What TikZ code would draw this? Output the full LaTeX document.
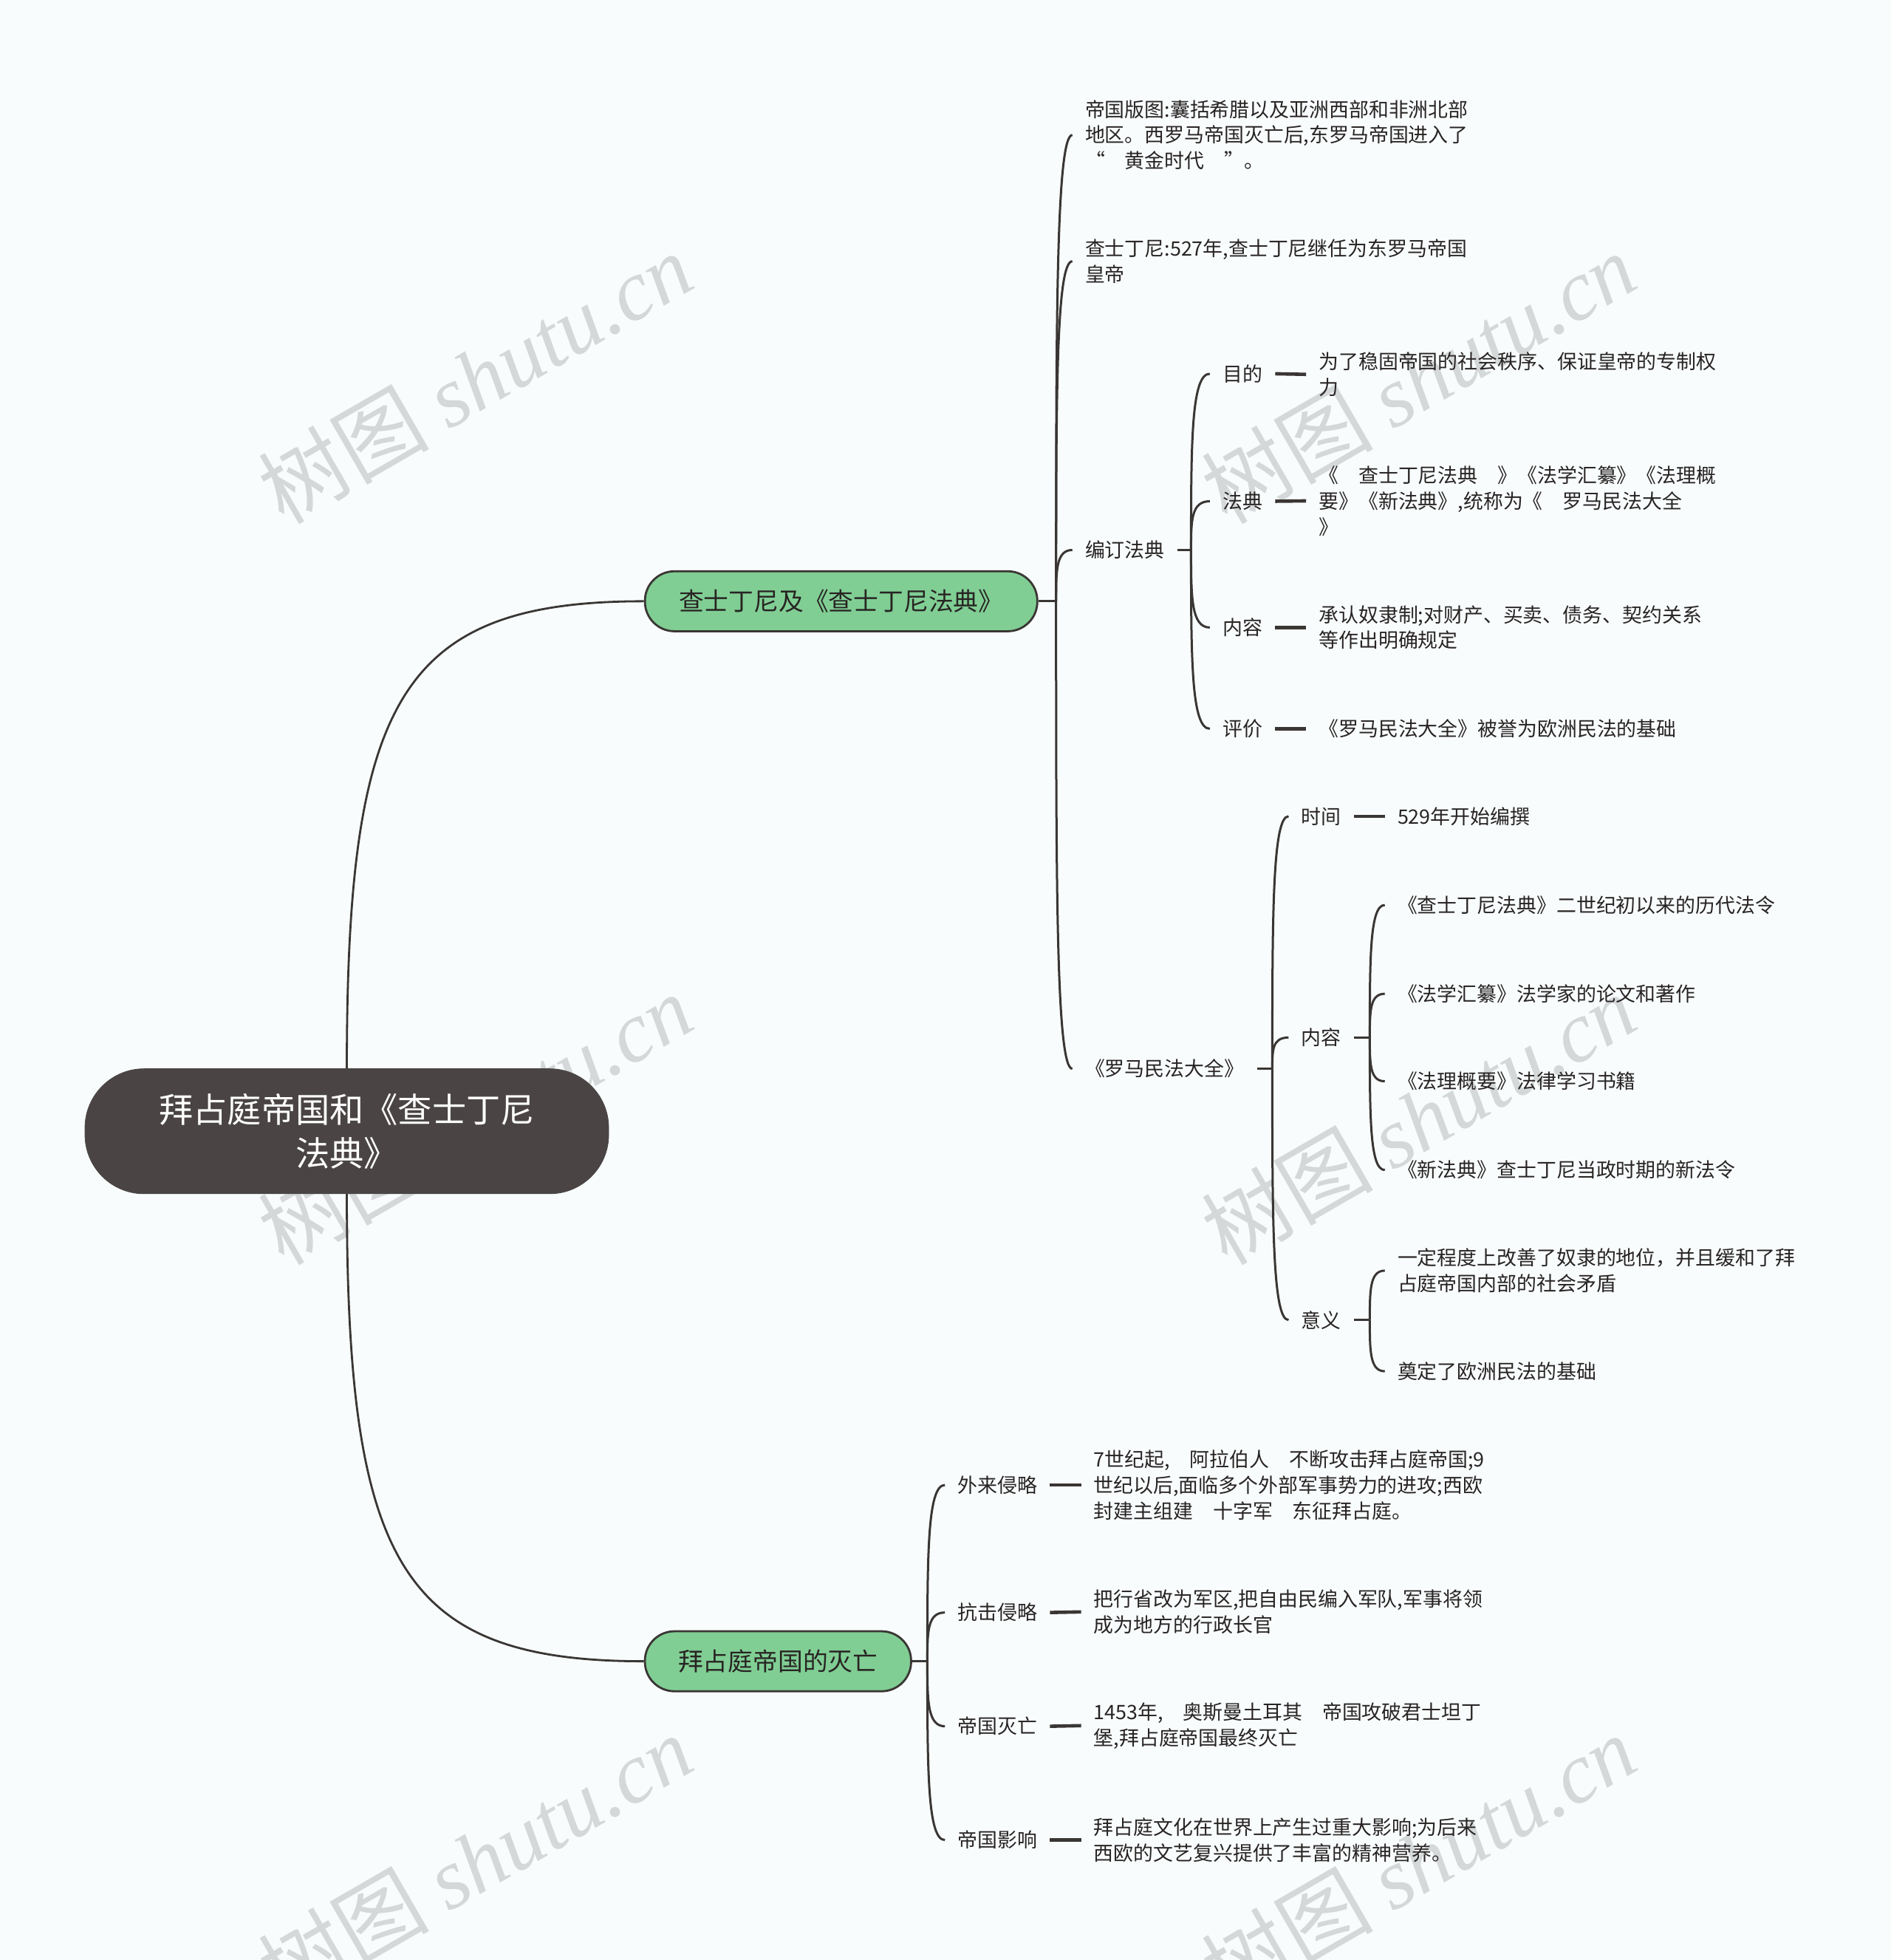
\documentclass[tikz,border=0pt]{standalone}
\usepackage{fontspec}
\setmainfont{Noto Sans CJK SC}
\newfontfamily\wmlatin{Liberation Serif}
\usetikzlibrary{calc}
\definecolor{bg}{RGB}{248,252,253}
\definecolor{ln}{RGB}{58,54,52}
\definecolor{rootfill}{RGB}{74,69,68}
\definecolor{grn}{RGB}{128,206,148}
\definecolor{txt}{RGB}{40,36,35}
\definecolor{wm}{RGB}{212,216,217}
\tikzset{
  conn/.style={draw=ln, line width=1.5pt},
  dashconn/.style={draw=ln, line width=2.3pt},
  rootconn/.style={draw=ln, line width=1.4pt},
  leaf/.style={anchor=west, inner xsep=8.46pt, inner ysep=2pt, align=left,
    font=\fontsize{13.45}{17.4}\selectfont, text=txt},
  rootbox/.style={fill=rootfill, draw=rootfill, rounded corners=40pt, align=center,
    minimum width=354.5pt, minimum height=84.6pt, inner sep=0pt, text=white,
    font=\fontsize{23.1}{29.6}\selectfont},
  topic/.style={fill=grn, draw=ln, line width=1.4pt, rounded corners=20pt,
    minimum height=40.6pt, inner sep=0pt, text=txt,
    font=\fontsize{16.9}{20}\selectfont},
  wmark/.style={text=wm, rotate=30, inner sep=0pt,
    font=\fontsize{58}{58}\selectfont}
}
\newcommand{\spinecurve}[2]{\draw[conn] (#1) .. controls ($(#1)!0.6!(#1 |- #2.west)$) and (#1 |- #2.west) .. (#2.west);}
\begin{document}
\begin{tikzpicture}[x=0.846pt, y=-0.846pt]
\fill[bg] (0,0) rectangle (1513,1568);
\useasboundingbox (0,0) rectangle (1513,1568);
% watermarks
\foreach \wx/\wy [count=\i] in {380/302, 1135/302, 380/895, 1135/895, 380/1488, 1135/1488}
  \node[wmark] (wm\i) at (\wx,\wy) {树图 {\wmlatin\itshape shutu.cn}};
% root and main topics
\node[rootbox] (root) at (277.5,905) {拜占庭帝国和《查士丁尼\\法典》};
\node[topic, minimum width=265.6pt] (b1) at (673,481) {查士丁尼及《查士丁尼法典》};
\node[topic, minimum width=180.2pt] (b2) at (622.5,1329) {拜占庭帝国的灭亡};
\draw[rootconn] (root.north) .. controls (277.5,560) and (320,481) .. (b1.west);
\draw[rootconn] (root.south) .. controls (277.5,1250) and (320,1329) .. (b2.west);
% branch 1 children
\node[leaf] (n11) at (858,108) {帝国版图:囊括希腊以及亚洲西部和非洲北部\\地区。西罗马帝国灭亡后,东罗马帝国进入了\\“　黄金时代　”。};
\node[leaf] (n12) at (858,209) {查士丁尼:527年,查士丁尼继任为东罗马帝国\\皇帝};
\node[leaf] (n13) at (858,440) {编订法典};
\node[leaf] (n14) at (858,855) {《罗马民法大全》};
\coordinate (s1) at (845,481);
\draw[conn] (b1.east) -- (s1);
\spinecurve{s1}{n11}
\spinecurve{s1}{n12}
\spinecurve{s1}{n13}
\spinecurve{s1}{n14}
% 编订法典
\node[leaf] (n131) at (968,299) {目的};
\node[leaf] (t131) at (1045,299.5) {为了稳固帝国的社会秩序、保证皇帝的专制权\\力};
\node[leaf] (n132) at (968,401) {法典};
\node[leaf] (t132) at (1045,400.7) {《　查士丁尼法典　》《法学汇纂》《法理概\\要》《新法典》,统称为《　罗马民法大全\\》};
\node[leaf] (n133) at (968,502) {内容};
\node[leaf] (t133) at (1045,502) {承认奴隶制;对财产、买卖、债务、契约关系\\等作出明确规定};
\node[leaf] (n134) at (968,583) {评价};
\node[leaf] (t134) at (1045,583) {《罗马民法大全》被誉为欧洲民法的基础};
\coordinate (s13) at (953,440);
\draw[conn] (n13.east) -- (s13);
\spinecurve{s13}{n131}
\spinecurve{s13}{n132}
\spinecurve{s13}{n133}
\spinecurve{s13}{n134}
\draw[dashconn] (n131.east) -- (t131.west);
\draw[dashconn] (n132.east) -- (t132.west);
\draw[dashconn] (n133.east) -- (t133.west);
\draw[dashconn] (n134.east) -- (t134.west);
% 罗马民法大全
\node[leaf] (n141) at (1031,653) {时间};
\node[leaf] (t141) at (1108,653) {529年开始编撰};
\node[leaf] (n142) at (1031,830) {内容};
\node[leaf] (n143) at (1031,1056) {意义};
\coordinate (s14) at (1018,855);
\draw[conn] (n14.east) -- (s14);
\spinecurve{s14}{n141}
\spinecurve{s14}{n142}
\spinecurve{s14}{n143}
\draw[dashconn] (n141.east) -- (t141.west);
\node[leaf] (t1421) at (1108,724) {《查士丁尼法典》二世纪初以来的历代法令};
\node[leaf] (t1422) at (1108,795) {《法学汇纂》法学家的论文和著作};
\node[leaf] (t1423) at (1108,865) {《法理概要》法律学习书籍};
\node[leaf] (t1424) at (1108,936) {《新法典》查士丁尼当政时期的新法令};
\coordinate (s142) at (1096,830);
\draw[conn] (n142.east) -- (s142);
\spinecurve{s142}{t1421}
\spinecurve{s142}{t1422}
\spinecurve{s142}{t1423}
\spinecurve{s142}{t1424}
\node[leaf] (t1431) at (1108,1016.5) {一定程度上改善了奴隶的地位，并且缓和了拜\\占庭帝国内部的社会矛盾};
\node[leaf] (t1432) at (1108,1097) {奠定了欧洲民法的基础};
\coordinate (s143) at (1096,1056);
\draw[conn] (n143.east) -- (s143);
\spinecurve{s143}{t1431}
\spinecurve{s143}{t1432}
% branch 2
\node[leaf] (n21) at (756,1188) {外来侵略};
\node[leaf] (t21) at (865,1188) {7世纪起,　阿拉伯人　不断攻击拜占庭帝国;9\\世纪以后,面临多个外部军事势力的进攻;西欧\\封建主组建　十字军　东征拜占庭。};
\node[leaf] (n22) at (756,1290) {抗击侵略};
\node[leaf] (t22) at (865,1289.5) {把行省改为军区,把自由民编入军队,军事将领\\成为地方的行政长官};
\node[leaf] (n23) at (756,1381) {帝国灭亡};
\node[leaf] (t23) at (865,1380.5) {1453年,　奥斯曼土耳其　帝国攻破君士坦丁\\堡,拜占庭帝国最终灭亡};
\node[leaf] (n24) at (756,1472) {帝国影响};
\node[leaf] (t24) at (865,1472) {拜占庭文化在世界上产生过重大影响;为后来\\西欧的文艺复兴提供了丰富的精神营养。};
\coordinate (s2) at (742,1329);
\draw[conn] (b2.east) -- (s2);
\spinecurve{s2}{n21}
\spinecurve{s2}{n22}
\spinecurve{s2}{n23}
\spinecurve{s2}{n24}
\draw[dashconn] (n21.east) -- (t21.west);
\draw[dashconn] (n22.east) -- (t22.west);
\draw[dashconn] (n23.east) -- (t23.west);
\draw[dashconn] (n24.east) -- (t24.west);
\end{tikzpicture}
\end{document}
